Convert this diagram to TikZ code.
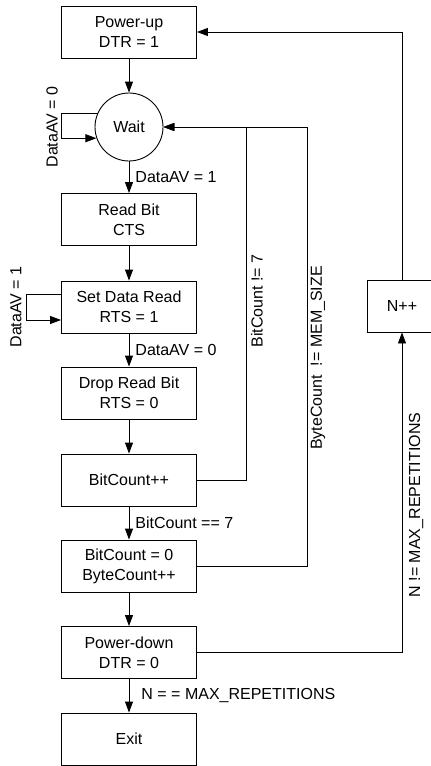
\documentclass[tikz,border=0pt]{standalone}
\usepackage{fontspec}
\setmainfont{Liberation Sans}
\usetikzlibrary{arrows.meta}
\begin{document}
\begin{tikzpicture}[x=1pt,y=-1pt,
  every node/.style={font=\fontsize{16}{20}\selectfont},
  state/.style={draw,line width=0.9pt,minimum width=135pt,minimum height=52pt,inner sep=0pt,align=center},
  waitstate/.style={draw,circle,line width=0.9pt,minimum size=68pt,inner sep=0pt},
  flow/.style={line width=0.9pt,-{Triangle[length=11pt,width=8pt]}},
  cond/.style={inner sep=0pt},
]
\useasboundingbox (0,0) rectangle (431,766);

% states
\node[state] (pu) at (129,32) {Power-up\\DTR = 1};
\node[waitstate] (wait) at (129,127) {Wait};
\node[state] (rb) at (129,219.5) {Read Bit\\CTS};
\node[state] (sdr) at (129,307) {Set Data Read\\RTS = 1};
\node[state] (drb) at (129,393) {Drop Read Bit\\RTS = 0};
\node[state] (bc) at (129,480) {BitCount++};
\node[state] (bc0) at (129,566) {BitCount = 0\\ByteCount++};
\node[state] (pd) at (129,652.5) {Power-down\\DTR = 0};
\node[state] (exit) at (129,739) {Exit};
\node[state,minimum width=70pt] (npp) at (402,306) {N++};

% main flow
\draw[flow] (pu) -- (wait);
\draw[flow] (wait) -- (rb) node[cond,midway,right=6pt] (c1) {DataAV = 1};
\draw[flow] (rb) -- (sdr);
\draw[flow] (sdr) -- (drb) node[cond,midway,right=6pt] (c2) {DataAV = 0};
\draw[flow] (drb) -- (bc);
\draw[flow] (bc) -- (bc0) node[cond,midway,right=6pt] (c3) {BitCount == 7};
\draw[flow] (bc0) -- (pd);
\draw[flow] (pd) -- (exit) node[cond,midway,right=12pt] (c4) {N = = MAX\_REPETITIONS};

% self loops
\draw[flow] (wait.156) -- ++(-36,0) |- (wait.199);
\node[cond,rotate=90] (l1) at (52,127) {DataAV = 0};
\draw[flow] ([yshift=13pt]sdr.west) -- ++(-35,0) |- ([yshift=-13pt]sdr.west);
\node[cond,rotate=90] (l2) at (16,307) {DataAV = 1};

% return paths
\draw[flow] (bc.east) -- ++(49.5,0) |- (wait.east);
\node[cond,rotate=90] (l3) at (257,301) {BitCount != 7};
\draw[flow] (bc0.east) -- ++(110.5,0) |- (wait.east);
\node[cond,rotate=90] (l4) at (318,358) {ByteCount\ \ != MEM\_SIZE};
\draw[flow] (pd.east) -| (npp.south);
\node[cond,rotate=90] (l5) at (416,505) {N != MAX\_REPETITIONS};
\draw[flow] (npp.north) |- (pu.east);
\end{tikzpicture}
\end{document}
